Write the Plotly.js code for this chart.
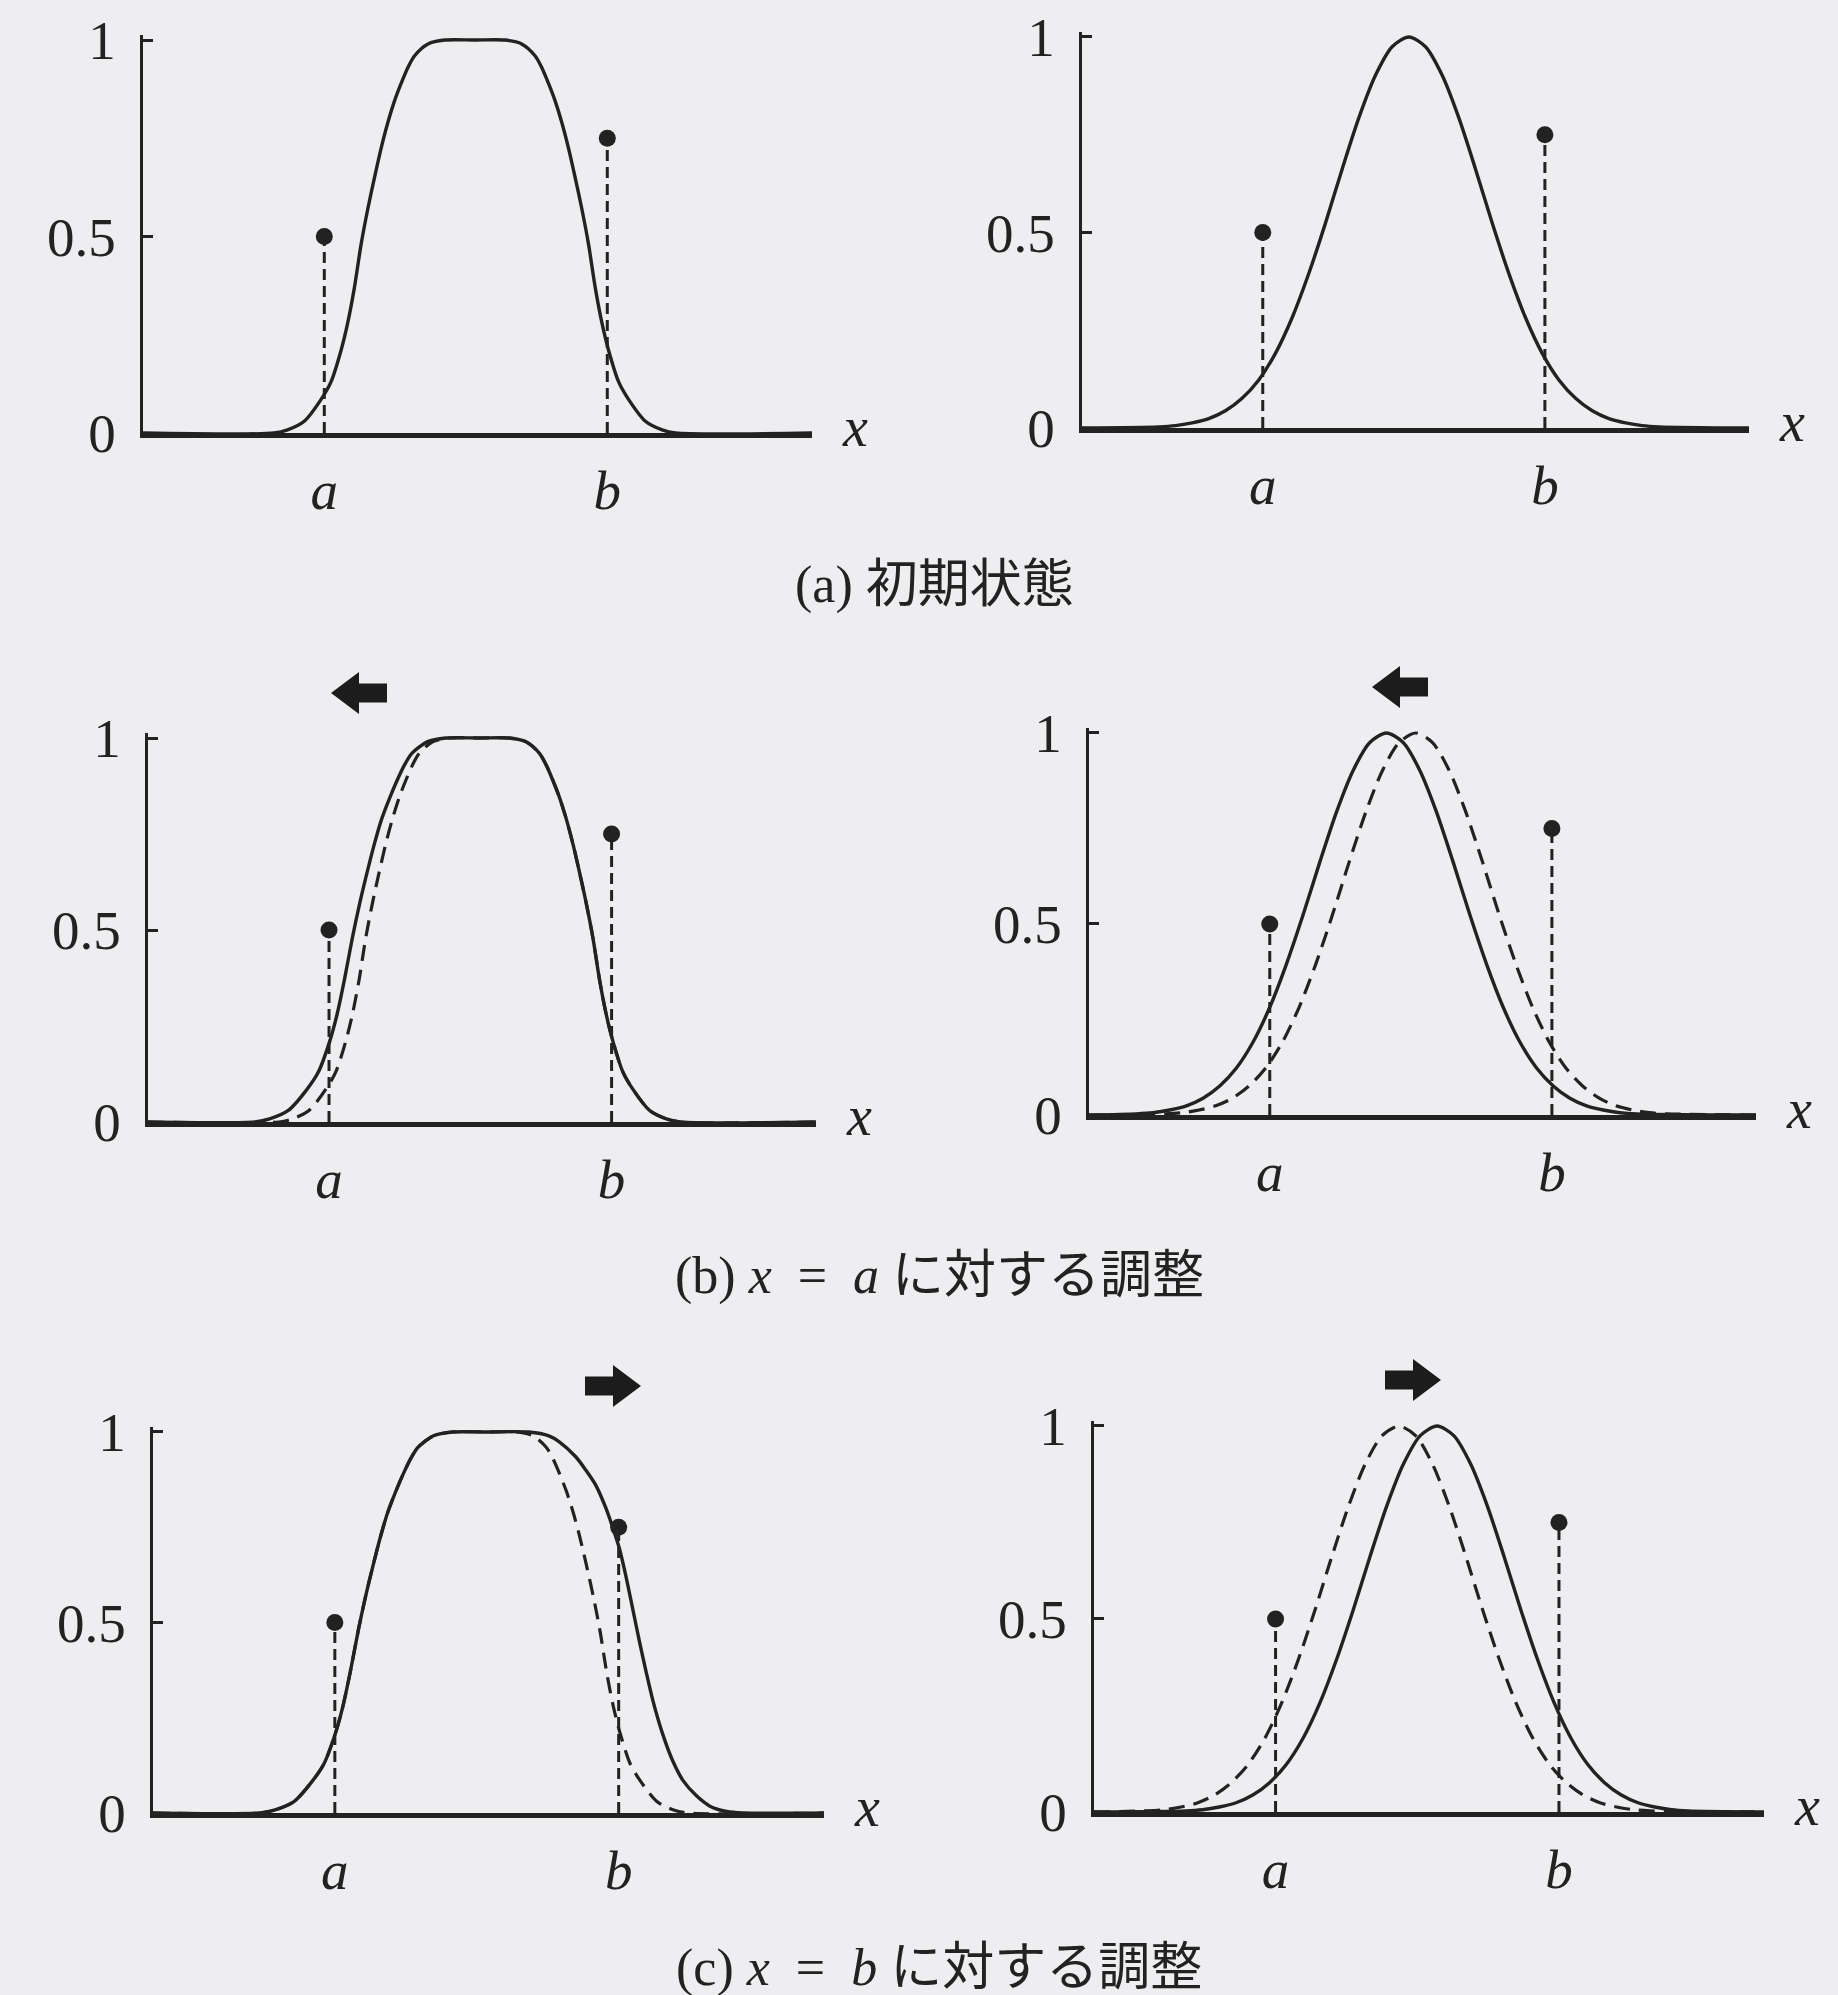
<!DOCTYPE html>
<html>
<head>
<meta charset="utf-8">
<script src="https://cdn.plot.ly/plotly-3.0.1.min.js"></script>
<style>
  html, body { margin: 0; padding: 0; background: #eeeef0; }
  #chart { width: 1838px; height: 1995px; }
</style>
</head>
<body>
<div id="chart"></div>
<script>
// ---- data -------------------------------------------------------------
// training points (x = a, x = b) and their target grades
const aPos = 2.71, bPos = 6.94;
const targetX = [aPos, bPos];
const targetY = [0.5, 0.75];
const xTickText = ['<i>a</i>', '<i>b</i>'];
const yTickVals = [0, 0.5, 1];
const yTickText = ['0', '0.5', '1'];

// flat-topped membership function, initial state
const flatInitX = [0, 1.96, 2.16, 2.41, 2.66, 2.81, 2.96, 3.06, 3.16, 3.26, 3.36, 3.46, 3.56, 3.66, 3.76, 3.86, 3.96, 4.06, 4.26, 4.51, 4.96,
                   5.41, 5.66, 5.86, 5.96, 6.06, 6.16, 6.26, 6.36, 6.46, 6.56, 6.66, 6.76, 6.86, 6.96, 7.11, 7.26, 7.51, 7.76, 7.96, 10];
const flatInitY = [0, 0, 0.008, 0.03, 0.085, 0.13, 0.21, 0.28, 0.37, 0.48, 0.57, 0.65, 0.725, 0.79, 0.845, 0.89, 0.93, 0.96, 0.99, 1, 1,
                   1, 0.99, 0.96, 0.93, 0.89, 0.845, 0.79, 0.725, 0.65, 0.57, 0.48, 0.37, 0.28, 0.21, 0.13, 0.085, 0.03, 0.008, 0, 0];

// flat-topped function after the x = a step (left flank widened)
const flatStepAX = [0, 1.60, 1.82, 2.10, 2.38, 2.55, 2.72, 2.83, 2.94, 3.06, 3.17, 3.28, 3.39, 3.50, 3.62, 3.73, 3.84, 3.95, 4.18, 4.46, 4.96,
                    5.41, 5.66, 5.86, 5.96, 6.06, 6.16, 6.26, 6.36, 6.46, 6.56, 6.66, 6.76, 6.86, 6.96, 7.11, 7.26, 7.51, 7.76, 7.96, 10];
const flatStepAY = [0, 0, 0.008, 0.03, 0.085, 0.13, 0.21, 0.28, 0.37, 0.48, 0.57, 0.65, 0.725, 0.79, 0.845, 0.89, 0.93, 0.96, 0.99, 1, 1,
                    1, 0.99, 0.96, 0.93, 0.89, 0.845, 0.79, 0.725, 0.65, 0.57, 0.48, 0.37, 0.28, 0.21, 0.13, 0.085, 0.03, 0.008, 0, 0];

// flat-topped function after the x = b step (right flank widened)
const flatStepBX = [0, 1.60, 1.82, 2.10, 2.38, 2.55, 2.72, 2.83, 2.94, 3.06, 3.17, 3.28, 3.39, 3.50, 3.62, 3.73, 3.84, 3.95, 4.18, 4.46, 4.96,
                    5.6, 5.9, 6.05, 6.3, 6.45, 6.6, 6.75, 6.85, 6.95, 7.05, 7.15, 7.25, 7.35, 7.45, 7.6, 7.75, 7.9, 8.1, 8.3, 8.55, 8.8, 10];
const flatStepBY = [0, 0, 0.008, 0.03, 0.085, 0.13, 0.21, 0.28, 0.37, 0.48, 0.57, 0.65, 0.725, 0.79, 0.845, 0.89, 0.93, 0.96, 0.99, 1, 1,
                    1, 0.99, 0.975, 0.935, 0.9, 0.86, 0.8, 0.75, 0.695, 0.62, 0.535, 0.45, 0.37, 0.295, 0.205, 0.135, 0.085, 0.045, 0.018, 0.004, 0, 0];

// bell-shaped membership function: grades and the x positions of each state
const bellY = [0, 0.003, 0.006, 0.013, 0.024, 0.044, 0.076, 0.123, 0.191, 0.282, 0.395, 0.524, 0.662, 0.793, 0.902, 0.975, 1,
               0.975, 0.902, 0.793, 0.662, 0.524, 0.395, 0.282, 0.191, 0.123, 0.076, 0.044, 0.024, 0.013, 0.006, 0.003, 0];
const bellInitX = [0, 1.15, 1.4, 1.65, 1.9, 2.15, 2.4, 2.65, 2.9, 3.15, 3.4, 3.65, 3.9, 4.15, 4.4, 4.65, 4.9,
                   5.15, 5.4, 5.65, 5.9, 6.15, 6.4, 6.65, 6.9, 7.15, 7.4, 7.65, 7.9, 8.15, 8.4, 8.65, 10];
const bellStepAX = [0, 0.71, 0.96, 1.21, 1.46, 1.71, 1.96, 2.21, 2.46, 2.71, 2.96, 3.21, 3.46, 3.71, 3.96, 4.21, 4.46,
                    4.71, 4.96, 5.21, 5.46, 5.71, 5.96, 6.21, 6.46, 6.71, 6.96, 7.21, 7.46, 7.71, 7.96, 8.21, 10];
const bellPrevX = [0, 0.8, 1.05, 1.3, 1.55, 1.8, 2.05, 2.3, 2.55, 2.8, 3.05, 3.3, 3.55, 3.8, 4.05, 4.3, 4.55,
                   4.8, 5.05, 5.3, 5.55, 5.8, 6.05, 6.3, 6.55, 6.8, 7.05, 7.3, 7.55, 7.8, 8.05, 8.3, 10];
const bellStepBX = [0, 1.37, 1.62, 1.87, 2.12, 2.37, 2.62, 2.87, 3.12, 3.37, 3.62, 3.87, 4.12, 4.37, 4.62, 4.87, 5.12,
                    5.37, 5.62, 5.87, 6.12, 6.37, 6.62, 6.87, 7.12, 7.37, 7.62, 7.87, 8.12, 8.37, 8.62, 8.87, 10];

const captions = [
  '(a) 初期状態',
  '(b) <i>x</i>\u2002=\u2002<i>a</i> に対する調整',
  '(c) <i>x</i>\u2002=\u2002<i>b</i> に対する調整'
];

// ---- layout geometry (pixels on the 1838 x 1995 page) -------------------
const W = 1838, H = 1995;
const INK = '#222222';
const SERIF = "'Liberation Serif', 'Times New Roman', serif";
const CAPTION_FONT = "'Liberation Serif', 'Noto Sans CJK JP', serif";
const Y_TOP = 1.012;

// axis boxes: left edge, right end of x axis, pixel row of y=1 and y=0
const panels = [
  { x0: 143,  x1: 812,  top: 40,   bottom: 433 },
  { x0: 1082, x1: 1749, top: 37,   bottom: 428 },
  { x0: 148,  x1: 816,  top: 738,  bottom: 1122 },
  { x0: 1089, x1: 1756, top: 733,  bottom: 1115 },
  { x0: 153,  x1: 824,  top: 1432, bottom: 1813 },
  { x0: 1094, x1: 1764, top: 1426, bottom: 1812 }
];

// curves for each panel: [x, y, dashed?]
const panelCurves = [
  [[flatInitX, flatInitY, false]],
  [[bellInitX, bellY, false]],
  [[flatInitX, flatInitY, true], [flatStepAX, flatStepAY, false]],
  [[bellInitX, bellY, true], [bellStepAX, bellY, false]],
  [[flatStepAX, flatStepAY, true], [flatStepBX, flatStepBY, false]],
  [[bellPrevX, bellY, true], [bellStepBX, bellY, false]]
];

// block arrows: tip x, centre y (px) and direction (-1 left, +1 right)
const arrows = [
  { tip: 331, cy: 693, dir: -1 },
  { tip: 1372, cy: 687, dir: -1 },
  { tip: 641, cy: 1386, dir: 1 },
  { tip: 1441, cy: 1380, dir: 1 }
];

const captionPos = [ { x: 934, y: 585 }, { x: 939, y: 1276 }, { x: 939, y: 1968 } ];

const px = v => v / W;
const py = v => 1 - v / H;

const traces = [];
const layout = {
  width: W, height: H,
  margin: { l: 0, r: 0, t: 0, b: 0 },
  paper_bgcolor: '#eeeef0',
  plot_bgcolor: 'rgba(0,0,0,0)',
  showlegend: false,
  annotations: [],
  shapes: []
};

panels.forEach((p, i) => {
  const n = i + 1;
  const xa = 'x' + (n === 1 ? '' : n);
  const ya = 'y' + (n === 1 ? '' : n);
  const topPx = p.bottom - (p.bottom - p.top) * Y_TOP;

  layout['xaxis' + (n === 1 ? '' : n)] = {
    domain: [px(p.x0), px(p.x1)],
    anchor: ya,
    range: [0, 10],
    showline: true, linewidth: 4.5, linecolor: INK,
    showgrid: false, zeroline: false,
    ticks: '',
    tickvals: targetX, ticktext: xTickText,
    tickfont: { family: SERIF, size: 55, color: INK },
    ticklabelstandoff: 5,
    fixedrange: true
  };
  layout['yaxis' + (n === 1 ? '' : n)] = {
    domain: [py(p.bottom), py(topPx)],
    anchor: xa,
    range: [0, Y_TOP],
    showline: true, linewidth: 3.2, linecolor: INK,
    showgrid: false, zeroline: false,
    ticks: 'inside', ticklen: 10, tickwidth: 3, tickcolor: INK,
    tickvals: yTickVals, ticktext: yTickText,
    tickfont: { family: SERIF, size: 55, color: INK },
    ticklabelstandoff: 13,
    fixedrange: true
  };

  // dashed drop lines from the training points
  traces.push({
    type: 'scatter', mode: 'lines', xaxis: xa, yaxis: ya,
    x: [targetX[0], targetX[0], null, targetX[1], targetX[1]],
    y: [0, targetY[0], null, 0, targetY[1]],
    line: { color: INK, width: 3, dash: '11px,6px' },
    hoverinfo: 'skip'
  });

  panelCurves[i].forEach(([cx, cy, dashed]) => {
    traces.push({
      type: 'scatter', mode: 'lines', xaxis: xa, yaxis: ya,
      x: cx, y: cy,
      line: { color: INK, width: dashed ? 3.2 : 3.4, shape: 'spline', smoothing: 0.8,
              dash: dashed ? '16px,9px' : 'solid' },
      hoverinfo: 'skip'
    });
  });

  // training points
  traces.push({
    type: 'scatter', mode: 'markers', xaxis: xa, yaxis: ya,
    x: targetX, y: targetY,
    marker: { color: INK, size: 17 },
    cliponaxis: false,
    hoverinfo: 'skip'
  });

  // axis name at the end of the x axis
  layout.annotations.push({
    xref: xa + ' domain', yref: ya,
    x: 1, y: 0, xanchor: 'left', yanchor: 'middle',
    xshift: 28, yshift: 6,
    text: '<i>x</i>', showarrow: false,
    font: { family: SERIF, size: 56, color: INK }
  });
});

captions.forEach((t, i) => {
  layout.annotations.push({
    xref: 'paper', yref: 'paper',
    x: px(captionPos[i].x), y: py(captionPos[i].y),
    xanchor: 'center', yanchor: 'middle',
    text: t, showarrow: false,
    font: { family: CAPTION_FONT, size: 52, color: INK }
  });
});

// block arrows showing the shift direction
arrows.forEach(a => {
  const headLen = 28, headHalf = 21, tailLen = 28, tailHalf = 9.5;
  const hb = a.tip - a.dir * headLen;
  const te = hb - a.dir * tailLen;
  const pts = [
    [a.tip, a.cy], [hb, a.cy - headHalf], [hb, a.cy - tailHalf], [te, a.cy - tailHalf],
    [te, a.cy + tailHalf], [hb, a.cy + tailHalf], [hb, a.cy + headHalf]
  ];
  const path = 'M ' + pts.map(q => px(q[0]).toFixed(5) + ',' + py(q[1]).toFixed(5)).join(' L ') + ' Z';
  layout.shapes.push({
    type: 'path', xref: 'paper', yref: 'paper', path: path,
    fillcolor: '#1c1c1c', line: { width: 0 }, layer: 'above'
  });
});

Plotly.newPlot('chart', traces, layout, { staticPlot: true, displayModeBar: false });
</script>
</body>
</html>
